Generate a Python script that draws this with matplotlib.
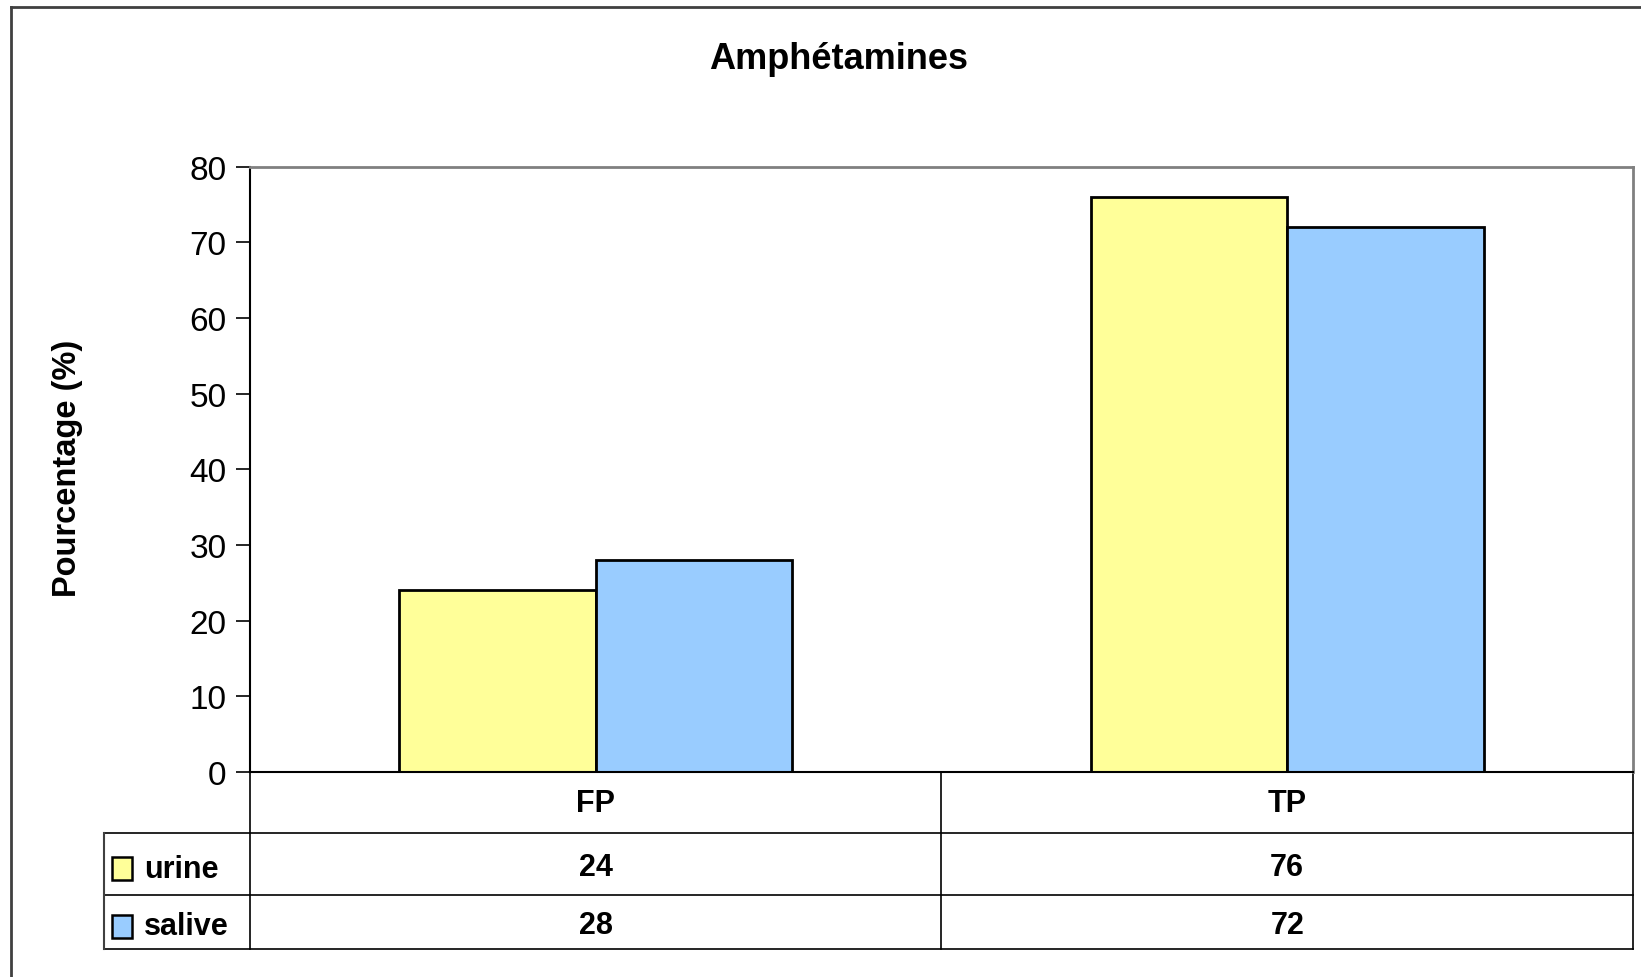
import matplotlib.pyplot as plt
from matplotlib.patches import Rectangle
from matplotlib.lines import Line2D
from matplotlib.transforms import blended_transform_factory

categories = ['FP', 'TP']
series_names = ['urine', 'salive']
urine = [24, 76]
salive = [28, 72]
colors = ['#FFFF99', '#99CCFF']
yticks = [0, 10, 20, 30, 40, 50, 60, 70, 80]

plt.rcParams['font.family'] = ['Liberation Sans', 'DejaVu Sans']

fig = plt.figure(figsize=(16.41, 9.78), dpi=100)
ax = fig.add_axes([0.1523, 0.2096, 0.8428, 0.6191])

w = 0.284
x = list(range(len(categories)))
ax.bar([i - w / 2 for i in x], urine, width=w, color=colors[0], edgecolor='black', linewidth=2)
ax.bar([i + w / 2 for i in x], salive, width=w, color=colors[1], edgecolor='black', linewidth=2)

ax.set_xlim(-0.5, 1.5)
ax.set_ylim(0, 80)
ax.set_yticks(yticks)
ax.tick_params(axis='y', labelsize=24, length=10, width=1.2, pad=7, direction='out')
ax.set_xticks([])
for side in ['top', 'right']:
    ax.spines[side].set_color('#808080')
    ax.spines[side].set_linewidth(2)
for side in ['left', 'bottom']:
    ax.spines[side].set_color('black')
    ax.spines[side].set_linewidth(1.5)

fig.text(0.511, 0.939, 'Amphétamines', ha='center', va='center', fontsize=26, fontweight='bold')
fig.text(0.0414, 0.521, 'Pourcentage (%)', ha='center', va='center', rotation=90,
         fontsize=23.5, fontweight='bold')

# data table under the axis
tr = blended_transform_factory(ax.transData, ax.transAxes)
row_y = [-0.1007, -0.203, -0.292]
left_x = -0.1056
lk = dict(color='black', linewidth=1.2, clip_on=False)
for y in row_y:
    ax.add_line(Line2D([left_x, 1], [y, y], transform=ax.transAxes, **lk))
for xv in [0, 0.5, 1]:
    ax.add_line(Line2D([xv, xv], [0, row_y[-1]], transform=ax.transAxes, **lk))
ax.add_line(Line2D([left_x, left_x], [row_y[0], row_y[-1]], transform=ax.transAxes,
                   color='#404040', linewidth=1.5, clip_on=False))

for i, cat in enumerate(categories):
    ax.text(i, -0.051, cat, transform=tr, ha='center', va='center', fontsize=22, fontweight='bold')
    ax.text(i, -0.157, str(urine[i]), transform=tr, ha='center', va='center', fontsize=22, fontweight='bold')
    ax.text(i, -0.252, str(salive[i]), transform=tr, ha='center', va='center', fontsize=22, fontweight='bold')

for name, col, yc in zip(series_names, colors, [-0.16, -0.255]):
    ax.add_patch(Rectangle((-0.1, yc - 0.019), 0.0145, 0.038, transform=ax.transAxes,
                           facecolor=col, edgecolor='black', linewidth=1.8, clip_on=False))
    ax.text(-0.0765, yc, name, transform=ax.transAxes, ha='left', va='center',
            fontsize=22, fontweight='bold')

# outer chart border (left and top edges visible)
fig.add_artist(Line2D([10.5 / 1641, 10.5 / 1641], [0, 1 - 8.4 / 978], transform=fig.transFigure,
                      color='#404040', linewidth=2))
fig.add_artist(Line2D([10.5 / 1641, 1], [1 - 8.4 / 978, 1 - 8.4 / 978], transform=fig.transFigure,
                      color='#404040', linewidth=2))

fig.savefig('out.png', dpi=100)
